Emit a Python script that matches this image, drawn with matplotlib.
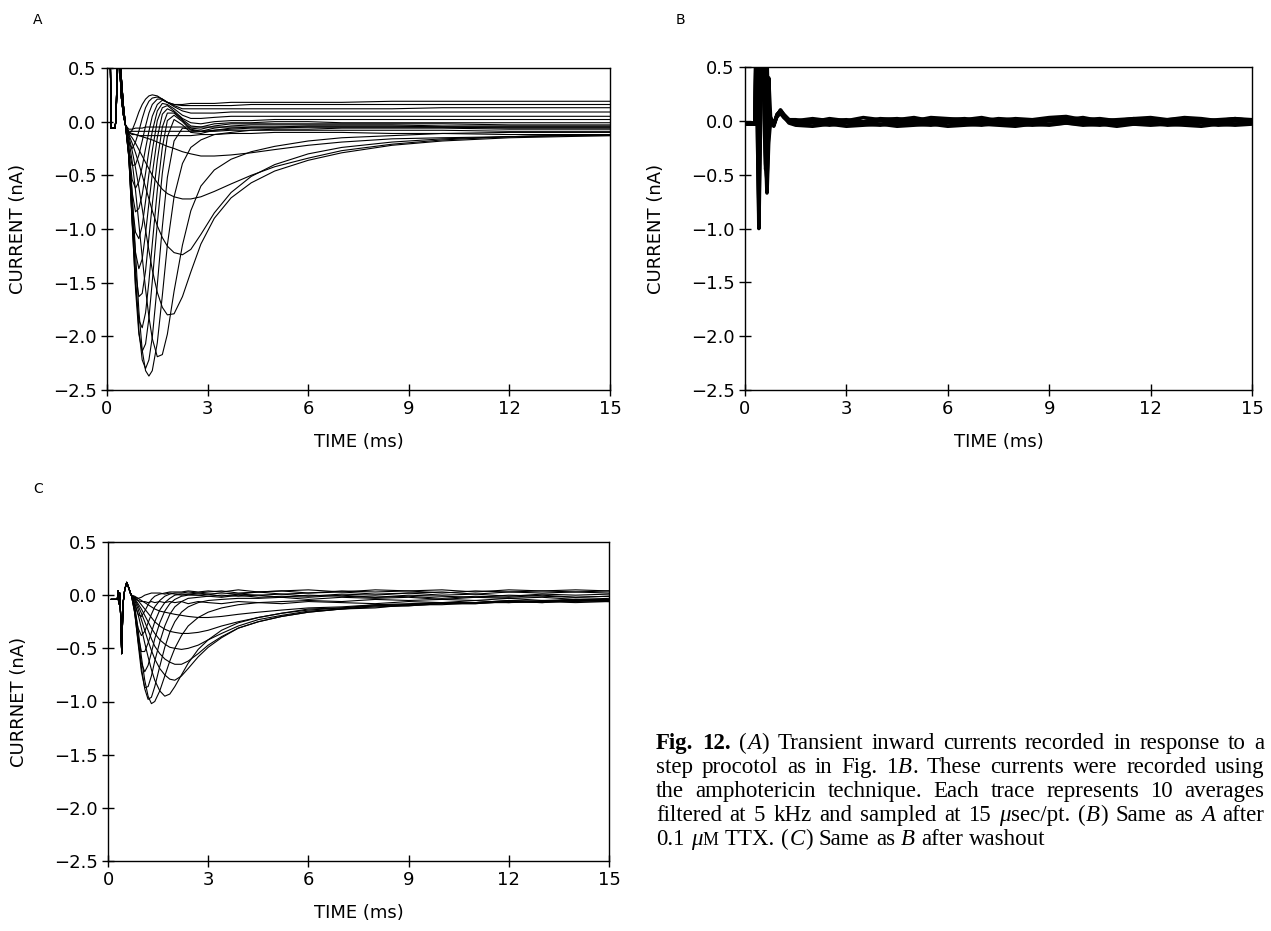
import re
import matplotlib
matplotlib.use("Agg")
import matplotlib.pyplot as plt
from matplotlib import font_manager

# ---- axis ticks (shared by all panels) ----
X_TICKS = [0, 3, 6, 9, 12, 15]
X_TICK_LABELS = ["0", "3", "6", "9", "12", "15"]
Y_TICKS = [-2.5, -2.0, -1.5, -1.0, -0.5, 0.0, 0.5]
Y_TICK_LABELS = ["\u22122.5", "\u22122.0", "\u22121.5", "\u22121.0", "\u22120.5", "0.0", "0.5"]

# ---- panel A: control (ms, nA) ----
A_PRE_T = [0.10, 0.12, 0.24, 0.26, 0.30, 0.34, 0.38, 0.43, 0.49]
A_PRE_I = [0.60, -0.06, -0.06, 0.00, 0.30, 0.80, 0.50, 0.22, 0.06]
A_PRE_I2 = [0.60, -0.06, -0.06, 0.00, 0.40, 0.90, 0.70, 0.40, 0.15]
A_T = [0.55, 0.65, 0.75, 0.85, 0.95, 1.05, 1.15, 1.25, 1.35,
       1.5, 1.65, 1.8, 2.0, 2.25, 2.5, 2.8, 3.2,
       3.7, 4.3, 5.0, 6.0, 7.0, 8.5, 10.0, 12.0, 13.5, 15.0]

A_S1 = [-0.03, -0.10, -0.12, -0.12, -0.13, -0.13, -0.13, -0.13, -0.13,
        -0.13, -0.13, -0.13, -0.13, -0.13, -0.13, -0.12, -0.12,
        -0.11, -0.11, -0.10, -0.10, -0.10, -0.11, -0.11, -0.12, -0.12, -0.12]
A_S2 = [-0.03, -0.10, -0.11, -0.12, -0.13, -0.14, -0.15, -0.16, -0.17,
        -0.19, -0.21, -0.23, -0.25, -0.28, -0.30, -0.32, -0.32,
        -0.31, -0.29, -0.26, -0.22, -0.19, -0.16, -0.15, -0.14, -0.13, -0.13]
A_S3 = [-0.03, -0.11, -0.15, -0.20, -0.26, -0.32, -0.38, -0.44, -0.50,
        -0.57, -0.63, -0.67, -0.70, -0.72, -0.72, -0.70, -0.65,
        -0.58, -0.50, -0.42, -0.34, -0.27, -0.21, -0.17, -0.14, -0.13, -0.12]
A_S4 = [-0.03, -0.12, -0.20, -0.29, -0.39, -0.50, -0.61, -0.72, -0.83,
        -0.97, -1.08, -1.16, -1.22, -1.24, -1.19, -1.05, -0.85,
        -0.66, -0.51, -0.40, -0.30, -0.24, -0.19, -0.16, -0.14, -0.13, -0.12]
A_S5 = [-0.03, -0.13, -0.27, -0.43, -0.61, -0.81, -1.01, -1.20, -1.38,
        -1.59, -1.73, -1.80, -1.79, -1.63, -1.40, -1.14, -0.90,
        -0.71, -0.57, -0.46, -0.36, -0.29, -0.22, -0.18, -0.15, -0.14, -0.13]
A_S6 = [-0.03, -0.16, -0.37, -0.64, -0.95, -1.26, -1.56, -1.82, -2.02,
        -2.19, -2.17, -1.98, -1.58, -1.15, -0.83, -0.60, -0.45,
        -0.35, -0.28, -0.23, -0.18, -0.15, -0.13, -0.11, -0.10, -0.10, -0.10]
A_P0 = [-0.03, -0.22, -0.66, -1.22, -1.76, -2.13, -2.32, -2.37, -2.32,
        -2.06, -1.62, -1.15, -0.70, -0.39, -0.24, -0.17, -0.12,
        -0.10, -0.08, -0.07, -0.07, -0.06, -0.06, -0.06, -0.07, -0.07, -0.07]
A_F1 = [-0.03, -0.27, -0.82, -1.44, -1.94, -2.22, -2.30, -2.22, -2.01,
        -1.52, -0.98, -0.52, -0.18, -0.06, -0.07, -0.09, -0.08,
        -0.07, -0.06, -0.06, -0.05, -0.05, -0.05, -0.05, -0.06, -0.06, -0.06]
A_F2 = [-0.03, -0.30, -0.92, -1.56, -1.98, -2.14, -2.07, -1.83, -1.49,
        -0.95, -0.48, -0.14, 0.02, -0.03, -0.10, -0.11, -0.08,
        -0.06, -0.05, -0.05, -0.04, -0.04, -0.04, -0.05, -0.05, -0.05, -0.05]
A_F3 = [-0.03, -0.32, -0.95, -1.52, -1.85, -1.92, -1.78, -1.49, -1.14,
        -0.64, -0.24, 0.01, 0.06, 0.00, -0.08, -0.09, -0.06,
        -0.04, -0.03, -0.03, -0.03, -0.03, -0.03, -0.04, -0.04, -0.04, -0.04]
A_F4 = [-0.03, -0.33, -0.92, -1.40, -1.63, -1.60, -1.39, -1.08, -0.77,
        -0.36, -0.05, 0.08, 0.08, 0.01, -0.06, -0.07, -0.04,
        -0.02, -0.02, -0.02, -0.02, -0.02, -0.02, -0.02, -0.03, -0.03, -0.03]
A_F5 = [-0.03, -0.33, -0.85, -1.22, -1.37, -1.28, -1.04, -0.76, -0.49,
        -0.15, 0.07, 0.12, 0.09, 0.02, -0.04, -0.05, -0.02,
        -0.01, -0.01, 0.00, 0.00, -0.01, -0.01, -0.01, -0.01, -0.01, -0.01]
A_F6 = [-0.03, -0.32, -0.76, -1.03, -1.09, -0.97, -0.74, -0.49, -0.27,
        0.01, 0.13, 0.15, 0.10, 0.03, -0.01, -0.02, 0.00,
        0.01, 0.01, 0.02, 0.02, 0.02, 0.02, 0.02, 0.02, 0.02, 0.02]
A_F7 = [-0.03, -0.30, -0.66, -0.84, -0.81, -0.68, -0.48, -0.27, -0.09,
        0.10, 0.17, 0.16, 0.12, 0.06, 0.03, 0.03, 0.04,
        0.05, 0.05, 0.05, 0.05, 0.05, 0.05, 0.05, 0.05, 0.05, 0.05]
A_F8 = [-0.03, -0.28, -0.54, -0.62, -0.56, -0.42, -0.25, -0.09, 0.05,
        0.16, 0.20, 0.18, 0.14, 0.10, 0.08, 0.08, 0.08,
        0.09, 0.09, 0.09, 0.09, 0.09, 0.09, 0.09, 0.09, 0.09, 0.09]
A_F9 = [-0.03, -0.25, -0.41, -0.40, -0.31, -0.18, -0.04, 0.08, 0.16,
        0.21, 0.21, 0.18, 0.15, 0.12, 0.12, 0.12, 0.12,
        0.12, 0.12, 0.12, 0.12, 0.12, 0.12, 0.13, 0.13, 0.13, 0.13]
A_F10 = [-0.03, -0.20, -0.25, -0.19, -0.09, 0.03, 0.13, 0.19, 0.22,
         0.23, 0.21, 0.18, 0.16, 0.15, 0.15, 0.15, 0.15,
         0.15, 0.16, 0.16, 0.16, 0.16, 0.16, 0.16, 0.16, 0.16, 0.16]
A_F11 = [-0.03, -0.11, -0.08, 0.00, 0.09, 0.16, 0.21, 0.24, 0.25,
         0.24, 0.21, 0.18, 0.16, 0.16, 0.17, 0.17, 0.17,
         0.18, 0.18, 0.18, 0.18, 0.18, 0.19, 0.19, 0.19, 0.19, 0.19]
A_N1 = [-0.03, -0.07, -0.07, -0.06, -0.06, -0.06, -0.05, -0.05, -0.05,
        -0.05, -0.05, -0.05, -0.05, -0.05, -0.05, -0.05, -0.05,
        -0.05, -0.05, -0.05, -0.05, -0.05, -0.05, -0.05, -0.05, -0.05, -0.05]
A_N2 = [-0.03, -0.09, -0.09, -0.09, -0.09, -0.09, -0.09, -0.09, -0.09,
        -0.09, -0.09, -0.09, -0.09, -0.09, -0.09, -0.09, -0.09,
        -0.08, -0.08, -0.08, -0.08, -0.08, -0.08, -0.08, -0.09, -0.09, -0.09]

# ---- panel B: 0.1 uM TTX ----
B_T_ART = [0.00, 0.30, 0.33, 0.37, 0.41, 0.45, 0.49, 0.53, 0.57, 0.61,
           0.65, 0.70, 0.76, 0.85, 0.95, 1.05, 1.15, 1.30]
B_T_BAND = [1.5, 2.0, 2.5, 3.0, 3.5, 4.0, 4.5, 5.0, 5.5, 6.0,
            6.5, 7.0, 7.5, 8.0, 8.5, 9.0, 9.5, 10.0, 10.5, 11.0,
            11.5, 12.0, 12.5, 13.0, 13.5, 14.0, 14.5, 15.0]
B1_ART = [-0.03, -0.03, 0.90, 0.20, -1.00, -0.20, 0.90, 0.90, 0.40, -0.30,
          -0.67, -0.20, 0.02, -0.05, 0.05, 0.10, 0.06, 0.01]
B2_ART = [-0.03, -0.03, 0.80, 0.00, -0.90, 0.10, 0.90, 0.70, 0.20, -0.40,
          -0.55, -0.10, 0.00, -0.04, 0.06, 0.09, 0.05, 0.00]
B3_ART = [-0.02, -0.02, 0.70, -0.20, -0.75, 0.30, 0.90, 0.60, 0.00, -0.45,
          -0.40, -0.05, 0.01, -0.03, 0.05, 0.08, 0.04, -0.02]
B4_ART = [-0.03, -0.03, 0.90, 0.40, -0.60, 0.50, 0.90, 0.80, 0.30, 0.90,
          0.50, 0.00, 0.02, -0.02, 0.04, 0.07, 0.03, -0.01]
B5_ART = [-0.03, -0.03, 0.60, 0.90, -0.40, 0.90, 0.50, 0.90, 0.60, 0.90,
          0.60, -0.10, 0.03, -0.04, 0.06, 0.09, 0.05, 0.00]
B6_ART = [-0.02, -0.02, 0.90, 0.70, -0.85, 0.70, 0.80, 0.40, 0.90, -0.10,
          -0.60, 0.40, 0.00, -0.03, 0.05, 0.10, 0.05, 0.01]
B1_BAND = [0.01, -0.01, 0.02, 0.00, 0.03, 0.01, 0.02, 0.00, 0.03, 0.02,
           0.01, 0.03, 0.00, 0.02, 0.01, 0.03, 0.04, 0.01, 0.02, 0.00,
           0.02, 0.03, 0.01, 0.03, 0.02, 0.00, 0.02, 0.01]
B2_BAND = [-0.02, -0.01, -0.03, -0.01, -0.02, 0.00, -0.02, -0.01, -0.02, 0.00,
           -0.01, -0.02, 0.00, -0.01, -0.02, 0.00, 0.01, -0.01, 0.00, -0.02,
           0.00, -0.01, 0.01, -0.01, 0.00, -0.02, 0.00, -0.01]
B3_BAND = [-0.04, -0.05, -0.03, -0.05, -0.04, -0.03, -0.05, -0.04, -0.03, -0.05,
           -0.04, -0.03, -0.04, -0.05, -0.03, -0.04, -0.02, -0.04, -0.03, -0.05,
           -0.03, -0.04, -0.03, -0.04, -0.05, -0.03, -0.04, -0.03]
B4_BAND = [0.00, 0.02, 0.00, 0.01, -0.01, 0.02, 0.01, 0.03, 0.00, 0.01,
           0.02, 0.00, 0.02, 0.01, 0.00, 0.02, 0.01, 0.03, 0.00, 0.01,
           0.02, 0.00, 0.01, 0.02, 0.00, 0.01, 0.02, 0.00]
B5_BAND = [-0.01, 0.01, -0.02, 0.00, -0.01, 0.01, -0.01, 0.01, -0.02, 0.00,
           0.01, -0.01, 0.01, -0.02, 0.00, 0.01, -0.01, 0.02, -0.01, 0.00,
           -0.01, 0.01, -0.01, 0.00, 0.01, -0.01, 0.00, 0.01]
B6_BAND = [-0.03, -0.02, -0.04, -0.02, -0.03, -0.04, -0.02, -0.03, -0.04, -0.02,
           -0.03, -0.04, -0.02, -0.03, -0.04, -0.03, -0.02, -0.03, -0.04, -0.02,
           -0.03, -0.02, -0.04, -0.03, -0.02, -0.04, -0.03, -0.02]

# ---- panel C: washout ----
C_PRE_T = [0.10, 0.28, 0.30, 0.32, 0.35, 0.38, 0.41, 0.45, 0.50, 0.56, 0.62, 0.67]
C_PRE_I = [-0.04, -0.04, 0.04, -0.08, 0.02, -0.20, -0.55, -0.08, 0.05, 0.12, 0.07, 0.02]
C_T = [0.70, 0.80, 0.90, 1.00, 1.10, 1.20, 1.30, 1.40, 1.55, 1.70,
       1.85, 2.00, 2.20, 2.40, 2.70, 3.00, 3.40, 3.90, 4.50, 5.20,
       6.0, 7.0, 8.0, 9.0, 10.0, 11.0, 12.0, 13.0, 14.0, 15.0]

C_P0 = [0.00, -0.10, -0.32, -0.58, -0.80, -0.95, -1.02, -1.00, -0.90, -0.76,
        -0.62, -0.50, -0.38, -0.29, -0.21, -0.16, -0.12, -0.09, -0.07, -0.06,
        -0.05, -0.06, -0.04, -0.05, -0.04, -0.05, -0.03, -0.05, -0.04, -0.04]
C_S6 = [0.00, -0.07, -0.18, -0.31, -0.45, -0.58, -0.70, -0.80, -0.90, -0.95,
        -0.93, -0.86, -0.75, -0.64, -0.51, -0.42, -0.33, -0.26, -0.21, -0.17,
        -0.13, -0.12, -0.09, -0.09, -0.07, -0.07, -0.05, -0.06, -0.05, -0.05]
C_S5 = [0.00, -0.05, -0.13, -0.23, -0.33, -0.43, -0.52, -0.60, -0.69, -0.75,
        -0.79, -0.80, -0.76, -0.69, -0.58, -0.49, -0.40, -0.31, -0.25, -0.20,
        -0.16, -0.13, -0.11, -0.10, -0.08, -0.08, -0.06, -0.07, -0.05, -0.06]
C_S4 = [0.00, -0.04, -0.10, -0.17, -0.25, -0.33, -0.41, -0.48, -0.55, -0.60,
        -0.63, -0.65, -0.65, -0.62, -0.55, -0.47, -0.39, -0.31, -0.25, -0.20,
        -0.16, -0.13, -0.12, -0.09, -0.09, -0.07, -0.07, -0.05, -0.06, -0.05]
C_S3 = [0.00, -0.03, -0.08, -0.13, -0.19, -0.25, -0.31, -0.36, -0.42, -0.46,
        -0.49, -0.50, -0.51, -0.50, -0.47, -0.42, -0.36, -0.29, -0.23, -0.19,
        -0.15, -0.13, -0.10, -0.10, -0.08, -0.08, -0.06, -0.07, -0.05, -0.06]
C_S2 = [0.00, -0.02, -0.05, -0.09, -0.13, -0.17, -0.21, -0.25, -0.29, -0.32,
        -0.34, -0.35, -0.36, -0.36, -0.35, -0.33, -0.29, -0.25, -0.21, -0.17,
        -0.14, -0.12, -0.10, -0.09, -0.07, -0.07, -0.06, -0.06, -0.04, -0.05]
C_S1 = [0.00, -0.01, -0.03, -0.05, -0.07, -0.09, -0.11, -0.13, -0.15, -0.16,
        -0.17, -0.18, -0.19, -0.20, -0.21, -0.21, -0.20, -0.18, -0.16, -0.14,
        -0.12, -0.11, -0.09, -0.08, -0.07, -0.07, -0.05, -0.06, -0.04, -0.05]
C_F1 = [0.00, -0.13, -0.40, -0.68, -0.88, -0.98, -0.96, -0.86, -0.67, -0.49,
        -0.35, -0.25, -0.16, -0.11, -0.07, -0.05, -0.04, -0.03, -0.03, -0.02,
        -0.04, -0.02, -0.03, -0.02, -0.04, -0.02, -0.03, -0.02, -0.04, -0.03]
C_F2 = [0.00, -0.16, -0.45, -0.72, -0.87, -0.86, -0.76, -0.62, -0.44, -0.29,
        -0.18, -0.11, -0.06, -0.03, -0.02, -0.01, -0.02, 0.00, -0.02, -0.01,
        -0.02, 0.00, -0.02, -0.01, -0.03, -0.01, -0.02, 0.00, -0.02, -0.01]
C_F3 = [0.00, -0.17, -0.43, -0.64, -0.72, -0.66, -0.54, -0.41, -0.26, -0.15,
        -0.08, -0.04, -0.01, 0.00, 0.00, 0.01, -0.01, 0.01, 0.00, 0.01,
        -0.01, 0.01, 0.00, 0.02, 0.00, 0.01, -0.01, 0.01, 0.00, 0.01]
C_F4 = [0.00, -0.16, -0.38, -0.53, -0.53, -0.45, -0.35, -0.25, -0.14, -0.07,
        -0.03, 0.00, 0.01, 0.01, 0.02, 0.01, 0.02, 0.01, 0.03, 0.01,
        0.02, 0.03, 0.01, 0.02, 0.03, 0.01, 0.03, 0.02, 0.03, 0.02]
C_F5 = [0.00, -0.14, -0.31, -0.38, -0.34, -0.26, -0.18, -0.11, -0.05, -0.01,
        0.01, 0.02, 0.02, 0.03, 0.02, 0.03, 0.04, 0.02, 0.03, 0.04,
        0.02, 0.04, 0.03, 0.04, 0.02, 0.04, 0.03, 0.04, 0.03, 0.04]
C_F6 = [0.00, -0.09, -0.18, -0.20, -0.15, -0.09, -0.04, -0.01, 0.01, 0.02,
        0.03, 0.03, 0.03, 0.04, 0.03, 0.04, 0.03, 0.05, 0.03, 0.04,
        0.05, 0.03, 0.05, 0.04, 0.05, 0.03, 0.05, 0.04, 0.05, 0.04]
C_N1 = [0.00, -0.02, -0.03, -0.02, 0.00, 0.01, 0.02, 0.02, 0.02, 0.01,
        0.02, 0.01, 0.00, 0.01, 0.00, -0.01, 0.00, -0.01, 0.00, -0.02,
        0.00, -0.01, -0.02, 0.00, -0.01, -0.02, 0.00, -0.01, -0.02, -0.01]
C_N2 = [0.00, -0.03, -0.05, -0.06, -0.06, -0.07, -0.06, -0.07, -0.06, -0.07,
        -0.06, -0.07, -0.06, -0.08, -0.06, -0.07, -0.08, -0.06, -0.07, -0.08,
        -0.06, -0.07, -0.08, -0.06, -0.07, -0.05, -0.07, -0.06, -0.07, -0.06]

CAPTION = [
    "**Fig.** **12.** (_A_) Transient inward currents recorded in response to a",
    "step procotol as in Fig. 1_B_. These currents were recorded using",
    "the amphotericin technique. Each trace represents 10 averages",
    "filtered at 5 kHz and sampled at 15 _\u03bc_sec/pt. (_B_) Same as _A_ after",
    "0.1 _\u03bc_^M^ TTX. (_C_) Same as _B_ after washout",
]

A_TRACES = [A_S1, A_S2, A_S3, A_S4, A_S5, A_S6, A_P0, A_F1, A_F2, A_F3, A_F4,
            A_F5, A_F6, A_F7, A_F8, A_F9, A_F10, A_F11, A_N1, A_N2]
B_TRACES = [(B1_ART, B1_BAND), (B2_ART, B2_BAND), (B3_ART, B3_BAND),
            (B4_ART, B4_BAND), (B5_ART, B5_BAND), (B6_ART, B6_BAND)]
C_TRACES = [C_P0, C_S6, C_S5, C_S4, C_S3, C_S2, C_S1, C_F1, C_F2, C_F3, C_F4,
            C_F5, C_F6, C_N1, C_N2]

_installed = {f.name for f in font_manager.fontManager.ttflist}
SANS = "Liberation Sans Narrow" if "Liberation Sans Narrow" in _installed else "DejaVu Sans"
SERIF = "Liberation Serif"

W, H = 1271, 931
fig = plt.figure(figsize=(W / 100, H / 100), dpi=100)


def px_axes(left, top, right, bottom):
    return fig.add_axes([left / W, 1 - bottom / H, (right - left) / W, (bottom - top) / H])


def style_axes(ax, ylabel, box):
    left, top, right, bottom = box
    ax.set_xlim(0, 15)
    ax.set_ylim(-2.5, 0.5)
    ax.set_xticks(X_TICKS)
    ax.set_xticklabels(X_TICK_LABELS, family=SANS, fontsize=13)
    ax.set_yticks(Y_TICKS)
    ax.set_yticklabels(Y_TICK_LABELS, family=SANS, fontsize=13)
    ax.tick_params(direction="inout", length=9, width=1, pad=3)
    for s in ax.spines.values():
        s.set_linewidth(1.0)
    ax.set_xlabel("TIME (ms)", family=SANS, fontsize=13, va="center")
    ax.xaxis.set_label_coords(0.5, -52 / (bottom - top))
    ax.set_ylabel(ylabel, family=SANS, fontsize=13, va="center")
    ax.yaxis.set_label_coords(-89 / (right - left), 0.5)


BOX_A = (107, 68, 610, 390)
BOX_B = (745, 67, 1252, 390)
BOX_C = (108, 542, 609, 861)

axA = px_axes(*BOX_A)
for k, tr in enumerate(A_TRACES):
    pre = A_PRE_I2 if k % 2 else A_PRE_I
    axA.plot(A_PRE_T + A_T, pre + tr, color="black", lw=0.8)
style_axes(axA, "CURRENT (nA)", BOX_A)

axB = px_axes(*BOX_B)
for art, band in B_TRACES:
    axB.plot(B_T_ART + B_T_BAND, art + band, color="black", lw=2.6)
style_axes(axB, "CURRENT (nA)", BOX_B)

axC = px_axes(*BOX_C)
for tr in C_TRACES:
    axC.plot(C_PRE_T + C_T, C_PRE_I + tr, color="black", lw=0.8)
style_axes(axC, "CURRNET (nA)", BOX_C)

for letter, x, y in [("A", 38, 20), ("B", 680, 20), ("C", 38, 489)]:
    fig.text(x / W, 1 - y / H, letter, family=SANS, fontsize=10, ha="center", va="center")


# ---- justified caption ----
def _pieces(word):
    out = []
    for b, i, s, n in re.findall(r"\*\*(.+?)\*\*|_(.+?)_|\^(.+?)\^|([^*_^]+)", word):
        if b:
            out.append((b, "b"))
        elif i:
            out.append((i, "i"))
        elif s:
            out.append((s, "s"))
        else:
            out.append((n, "n"))
    return out


def draw_caption(lines, x0, x1, base0, step, size):
    rend = fig.canvas.get_renderer()
    space = size * 100 / 72 * 0.25
    for k, line in enumerate(lines):
        y = 1 - (base0 + k * step) / H
        words = []
        for w in line.split(" "):
            parts = []
            for txt, st in _pieces(w):
                kw = dict(family=SERIF, fontsize=size, ha="left", va="baseline")
                if st == "b":
                    kw["weight"] = "bold"
                elif st == "i":
                    kw["style"] = "italic"
                elif st == "s":
                    kw["fontsize"] = size * 0.78
                t = fig.text(0, y, txt, **kw)
                parts.append((t, t.get_window_extent(rend).width))
            words.append(parts)
        widths = [sum(p[1] + 0.5 for p in w) for w in words]
        if k < len(lines) - 1:
            gap = max((x1 - x0 - sum(widths)) / (len(words) - 1), space * 0.6)
        else:
            gap = space
        x = x0
        for w in words:
            for t, wd in w:
                t.set_x(x / W)
                x += wd + 0.5
            x += gap


draw_caption(CAPTION, 656, 1265, 749, 24, 16.5)

fig.savefig("out.png", dpi=100)
